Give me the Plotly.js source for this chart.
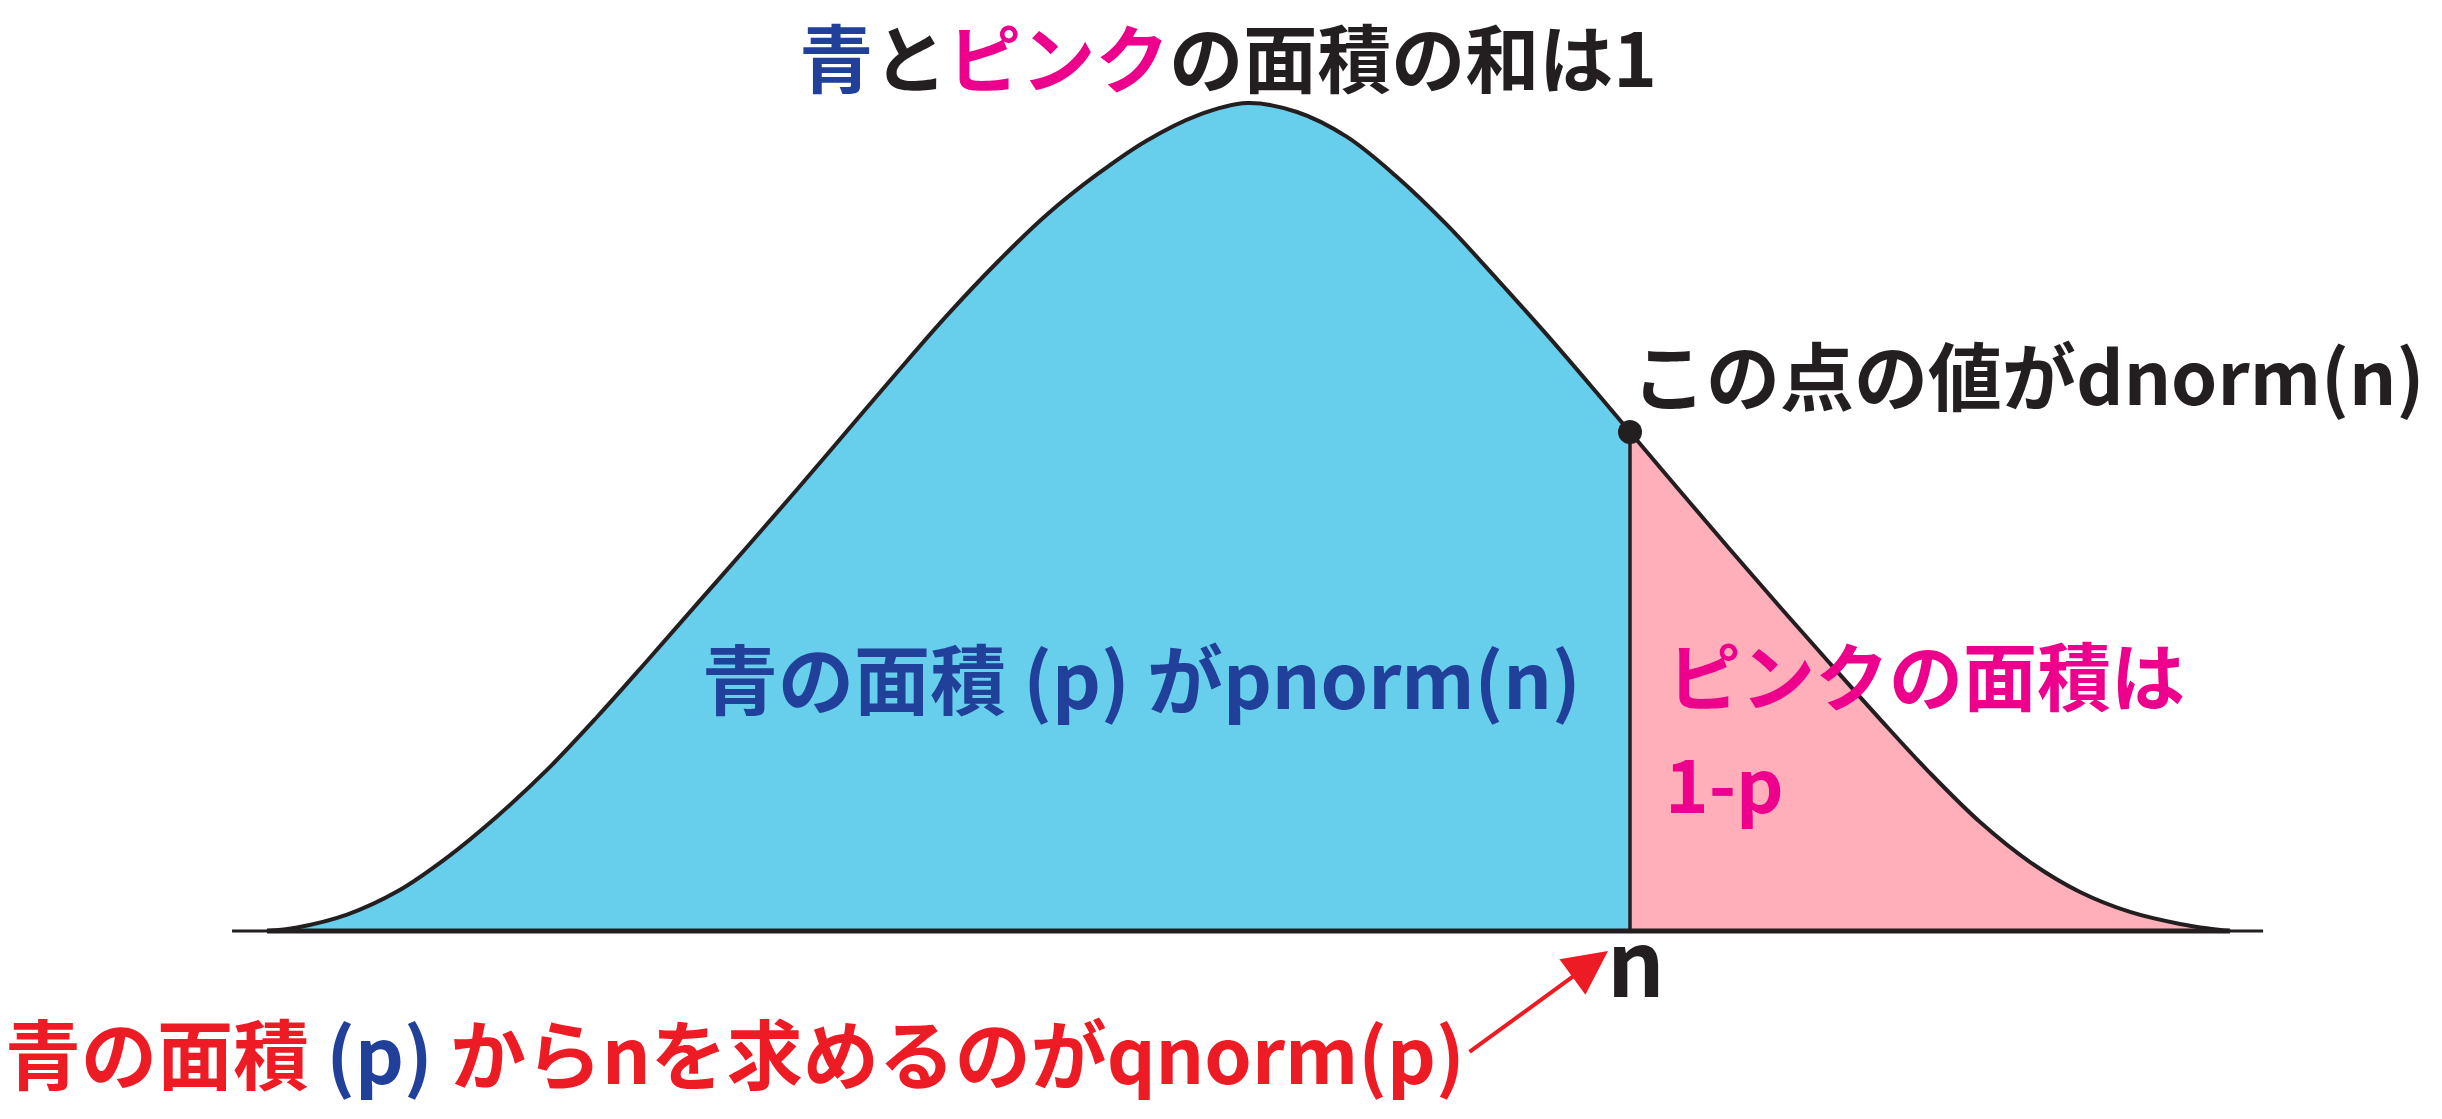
<!DOCTYPE html>
<html><head><meta charset="utf-8">
<script src="https://cdn.plot.ly/plotly-3.0.1.min.js"></script>
<style>html,body{margin:0;padding:0;background:#fff;}#chart{width:2442px;height:1119px;}</style>
</head><body><div id="chart"></div>
<script>
// Curve: x in standard-normal units (n = 1), y = density
const curveZ = [-2.5587, -2.4804, -2.3499, -2.2193, -2.0888, -1.9582, -1.8277, -1.6971, -1.5666,
  -1.4360, -1.3055, -1.1749, -1.0444, -0.9138, -0.7833, -0.6527, -0.5222, -0.3916, -0.2611,
  -0.1305, 0, 0.1305, 0.2611, 0.3916, 0.5222, 0.6527, 0.7833, 0.9138, 1.0, 1.1305, 1.2611,
  1.3916, 1.5222, 1.6527, 1.7833, 1.9138, 2.0444, 2.1749, 2.3055, 2.4360, 2.5144, 2.5666];
const curveDensity = [0, 0.0017, 0.0079, 0.0190, 0.0354, 0.0552, 0.0776, 0.1031, 0.1301,
  0.1576, 0.1850, 0.2127, 0.2409, 0.2691, 0.2966, 0.3221, 0.3452, 0.3645, 0.3809,
  0.3929, 0.3989, 0.3946, 0.3826, 0.3633, 0.3402, 0.3141, 0.2872, 0.2592, 0.2404, 0.2120, 0.1838,
  0.1561, 0.1289, 0.1021, 0.0761, 0.0525, 0.0332, 0.0188, 0.0092, 0.0034, 0.0011, 0];
const nValue = 1.0;          // the point n
const dnormN = 0.2404;       // density at n (the dot)
const baselineExtent = [-2.65, 2.653];

const titleText = '<span style="color:#21409A">青</span>と<span style="color:#EC008C">ピンク</span>の面積の和は1';
const pointLabel = 'この点の値がdnorm(n)';
const blueLabel = '青の面積 (p) がpnorm(n)';
const pinkLabel1 = 'ピンクの面積は';
const pinkLabel2 = '1-p';
const nLabel = 'n';
const bottomLabel = '青の面積 <span style="color:#21409A">(p)</span> からnを求めるのがqnorm(p)';

// ---- pixel geometry of the figure ----
const W = 2442, H = 1119;
const centerPx = 1247, sigmaPx = 383, baselinePx = 931, peakHeightPx = 828, peakDensity = 0.39894;
const yPerPx = peakDensity / peakHeightPx;
const xRange = [(0 - centerPx) / sigmaPx, (W - centerPx) / sigmaPx];
const yRange = [(baselinePx - H) * yPerPx, baselinePx * yPerPx];
const pxX = v => v / W;
const pxY = v => 1 - v / H;
const zOfPx = p => (p - centerPx) / sigmaPx;
const dOfPx = p => (baselinePx - p) * yPerPx;

const FONT = '"Noto Sans CJK JP", "Noto Sans CJK SC", sans-serif';
const INK = '#231F20';

const blueX = [], blueY = [], pinkX = [], pinkY = [];
curveZ.forEach((z, i) => {
  if (z <= nValue) { blueX.push(z); blueY.push(curveDensity[i]); }
  if (z >= nValue) { pinkX.push(z); pinkY.push(curveDensity[i]); }
});

const traces = [
  {x: blueX, y: blueY, type: 'scatter', mode: 'lines', fill: 'tozeroy', fillcolor: '#67CEEB',
   line: {width: 0, shape: 'spline', smoothing: 1}, hoverinfo: 'skip'},
  {x: pinkX, y: pinkY, type: 'scatter', mode: 'lines', fill: 'tozeroy', fillcolor: '#FFAFBA',
   line: {width: 0, shape: 'spline', smoothing: 1}, hoverinfo: 'skip'},
  {x: [nValue, nValue], y: [0, dnormN], type: 'scatter', mode: 'lines',
   line: {color: INK, width: 3.5}, hoverinfo: 'skip'},
  {x: curveZ, y: curveDensity, type: 'scatter', mode: 'lines',
   line: {color: INK, width: 4, shape: 'spline', smoothing: 1}, hoverinfo: 'skip'},
  {x: [nValue], y: [dnormN], type: 'scatter', mode: 'markers',
   marker: {color: INK, size: 24}, hoverinfo: 'skip'}
];

const shapes = [
  {type: 'line', xref: 'x', yref: 'y', x0: baselineExtent[0], x1: baselineExtent[1], y0: 0, y1: 0,
   line: {color: INK, width: 3}},
  {type: 'line', xref: 'x', yref: 'y', x0: curveZ[0], x1: curveZ[curveZ.length - 1], y0: 0, y1: 0,
   line: {color: INK, width: 5}}
];

function label(text, xPx, yPx, size, color, xanchor, yanchor) {
  return {text: text, xref: 'paper', yref: 'paper', x: pxX(xPx), y: pxY(yPx),
    xanchor: xanchor || 'left', yanchor: yanchor || 'middle', align: 'left',
    showarrow: false, borderpad: 0,
    font: {family: FONT, size: size, color: color, weight: 700}};
}

const annotations = [
  label(pointLabel, 1631, 372, 74, INK),
  label(blueLabel, 701, 676, 76, '#21409A'),
  label(pinkLabel1, 1666, 672, 74, '#EC008C'),
  label(pinkLabel2, 1664, 781, 74, '#EC008C'),
  label(bottomLabel, 4, 1051, 76, '#ED1C24'),
  label(nLabel, 1636, 958, 90, INK, 'center'),
  {text: '', x: zOfPx(1608), y: dOfPx(951), xref: 'x', yref: 'y',
   ax: -140, ay: 102, axref: 'pixel', ayref: 'pixel', showarrow: true,
   arrowhead: 2, arrowsize: 2.2, arrowwidth: 4, arrowcolor: '#ED1C24', standoff: 0}
];

const layout = {
  width: W, height: H, autosize: false,
  margin: {l: 0, r: 0, t: 0, b: 0, pad: 0},
  paper_bgcolor: '#ffffff', plot_bgcolor: '#ffffff',
  showlegend: false,
  title: {text: titleText, x: pxX(1228), xanchor: 'center', xref: 'paper',
          y: pxY(87), yanchor: 'bottom', yref: 'paper',
          font: {family: FONT, size: 74, color: INK, weight: 700}},
  xaxis: {range: xRange, visible: false, fixedrange: true},
  yaxis: {range: yRange, visible: false, fixedrange: true},
  shapes: shapes,
  annotations: annotations
};

Plotly.newPlot('chart', traces, layout, {staticPlot: true, displayModeBar: false});
</script></body></html>
